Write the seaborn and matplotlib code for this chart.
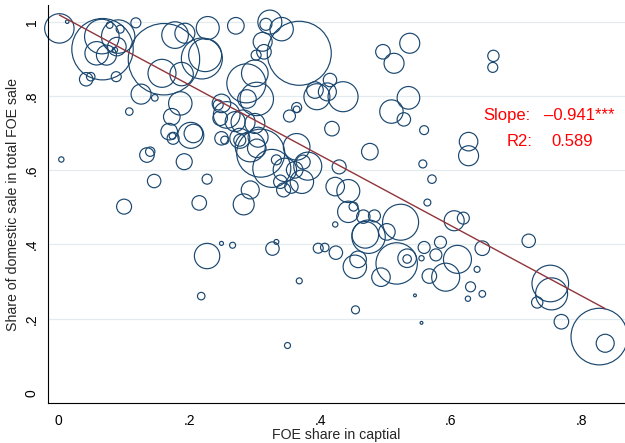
import numpy as np
import pandas as pd
import matplotlib
matplotlib.use("Agg")
import matplotlib.pyplot as plt
import seaborn as sns

# ---- data ----
foe_share = [0.001, 0.013, 0.118, 0.067, 0.066, 0.091, 0.058, 0.073, 0.089, 0.078,
             0.094, 0.086, 0.042, 0.049, 0.088, 0.108, 0.126, 0.147, 0.004, 0.161,
             0.158, 0.188, 0.178, 0.193, 0.228, 0.186, 0.173, 0.169, 0.175, 0.174,
             0.202, 0.206, 0.135, 0.140, 0.192, 0.146, 0.100, 0.215, 0.227, 0.283,
             0.293, 0.271, 0.323, 0.317, 0.341, 0.368, 0.312, 0.314, 0.302, 0.300,
             0.287, 0.303, 0.288, 0.224, 0.219, 0.249, 0.257, 0.270, 0.247, 0.249,
             0.254, 0.277, 0.300, 0.305, 0.303, 0.309, 0.326, 0.364, 0.374, 0.381,
             0.333, 0.346, 0.361, 0.339, 0.344, 0.356, 0.372, 0.395, 0.392, 0.415,
             0.411, 0.435, 0.364, 0.364, 0.353, 0.418, 0.476, 0.429, 0.423, 0.443,
             0.451, 0.496, 0.513, 0.537, 0.509, 0.535, 0.528, 0.559, 0.557, 0.571,
             0.564, 0.665, 0.664, 0.627, 0.627, 0.282, 0.293, 0.277, 0.244, 0.443,
             0.423, 0.466, 0.483, 0.469, 0.474, 0.502, 0.523, 0.517, 0.333, 0.327,
             0.397, 0.407, 0.424, 0.453, 0.458, 0.493, 0.533, 0.533, 0.555, 0.559,
             0.584, 0.577, 0.610, 0.592, 0.567, 0.605, 0.619, 0.648, 0.640, 0.630,
             0.626, 0.648, 0.545, 0.555, 0.454, 0.719, 0.752, 0.754, 0.732, 0.769,
             0.827, 0.836, 0.227, 0.249, 0.266, 0.218, 0.368, 0.350]

domestic_share = [0.982, 1.000, 0.997, 0.926, 0.960, 0.960, 0.915, 0.910, 0.933, 0.991,
                  0.980, 0.924, 0.845, 0.852, 0.852, 0.758, 0.805, 0.795, 0.629, 0.899,
                  0.861, 0.859, 0.964, 0.969, 0.983, 0.780, 0.744, 0.704, 0.686, 0.692,
                  0.694, 0.699, 0.641, 0.650, 0.623, 0.571, 0.502, 0.512, 0.576, 0.508,
                  0.547, 0.989, 0.999, 0.993, 0.980, 0.915, 0.946, 0.919, 0.910, 0.861,
                  0.834, 0.792, 0.792, 0.910, 0.901, 0.780, 0.749, 0.731, 0.740, 0.686,
                  0.681, 0.686, 0.726, 0.689, 0.659, 0.646, 0.605, 0.663, 0.622, 0.611,
                  0.628, 0.601, 0.601, 0.569, 0.547, 0.556, 0.569, 0.798, 0.816, 0.843,
                  0.811, 0.798, 0.769, 0.764, 0.746, 0.712, 0.650, 0.609, 0.556, 0.544,
                  0.502, 0.919, 0.888, 0.942, 0.758, 0.795, 0.737, 0.708, 0.617, 0.576,
                  0.513, 0.908, 0.877, 0.677, 0.639, 0.730, 0.663, 0.681, 0.776, 0.488,
                  0.454, 0.475, 0.477, 0.426, 0.421, 0.434, 0.460, 0.349, 0.407, 0.389,
                  0.390, 0.392, 0.378, 0.340, 0.360, 0.312, 0.363, 0.361, 0.363, 0.392,
                  0.406, 0.372, 0.360, 0.312, 0.315, 0.464, 0.471, 0.390, 0.333, 0.286,
                  0.254, 0.267, 0.263, 0.189, 0.224, 0.410, 0.295, 0.267, 0.244, 0.192,
                  0.152, 0.134, 0.369, 0.403, 0.398, 0.261, 0.302, 0.128]

weight = [216, 3, 25, 942, 299, 279, 137, 100, 86, 11,
          16, 7, 45, 18, 25, 14, 100, 11, 7, 1274,
          196, 137, 177, 100, 132, 137, 69, 69, 36, 11,
          169, 86, 53, 22, 64, 45, 56, 53, 25, 110,
          81, 69, 144, 36, 137, 1024, 90, 53, 25, 177,
          380, 279, 86, 272, 420, 86, 177, 100, 53, 45,
          16, 100, 100, 100, 86, 576, 361, 177, 49, 196,
          25, 137, 69, 45, 49, 45, 137, 169, 69, 45,
          81, 225, 25, 11, 36, 53, 69, 49, 86, 132,
          20, 53, 100, 100, 137, 128, 45, 20, 16, 18,
          12, 32, 25, 86, 100, 144, 225, 36, 25, 114,
          7, 45, 36, 177, 279, 69, 324, 428, 6, 45,
          25, 18, 45, 137, 69, 86, 86, 18, 7, 36,
          36, 36, 196, 196, 53, 100, 36, 53, 9, 25,
          7, 11, 2, 2, 16, 45, 335, 256, 32, 53,
          801, 81, 161, 4, 9, 14, 9, 9]

fit_intercept = 1.019
fit_slope = -0.947
slope_label = "\u20130.941***"
r2_label = "0.589"

x_ticks = [0, 0.2, 0.4, 0.6, 0.8]
x_ticklabels = ["0", ".2", ".4", ".6", ".8"]
y_ticks = [0, 0.2, 0.4, 0.6, 0.8, 1.0]
y_ticklabels = ["0", ".2", ".4", ".6", ".8", "1"]

df = pd.DataFrame({"foe": foe_share, "dom": domestic_share, "w": weight})

# ---- styling ----
sns.set_style("white")
plt.rcParams["font.family"] = ["Liberation Sans", "DejaVu Sans"]

navy = "#1a476f"
maroon = "#90353b"

fig = plt.figure(figsize=(6.25, 4.43), dpi=100)
ax = fig.add_axes([0.0773, 0.0896, 0.9227, 0.8991])

# gridlines (not at 0)
for yv in y_ticks[1:]:
    ax.axhline(yv, color="#e3ebee", lw=0.9, zorder=0)

wmax = max(weight)
px2pt = 0.72
sns.scatterplot(data=df, x="foe", y="dom", size="w",
                sizes=(0, (2 * px2pt) ** 2 * wmax), size_norm=(0, wmax),
                facecolor="none", edgecolor=navy, linewidth=0.85,
                legend=False, ax=ax, zorder=2, clip_on=False)

lx = np.array([min(foe_share), max(foe_share)])
sns.lineplot(x=lx, y=fit_intercept + fit_slope * lx, color=maroon,
             linewidth=1.0, ax=ax, zorder=3)

ax.set_xlim(-0.0159, 0.8663)
ax.set_ylim(-0.0277, 1.045)

ax.set_xticks(x_ticks)
ax.set_xticklabels(x_ticklabels, fontsize=10)
ax.set_yticks(y_ticks)
ax.set_yticklabels(y_ticklabels, fontsize=10, rotation=90, va="center")
ax.tick_params(axis="both", direction="out", length=4.3, width=0.8,
               color="black", labelcolor="black")
ax.tick_params(axis="x", pad=3.5)
ax.tick_params(axis="y", pad=2.5)

for side in ["top", "right"]:
    ax.spines[side].set_visible(False)
for side in ["left", "bottom"]:
    ax.spines[side].set_color("black")
    ax.spines[side].set_linewidth(0.8)

ax.set_xlabel("FOE share in captial", fontsize=10.2, va="center")
ax.set_ylabel("Share of domestic sale in total FOE sale", fontsize=10.2, va="center")
ax.xaxis.set_label_coords(0.5, -0.0796)
ax.yaxis.set_label_coords(-0.0612, 0.5)

ax.text(0.650, 0.735, "Slope:", color="red", fontsize=12, va="baseline", ha="left")
ax.text(0.743, 0.735, slope_label, color="red", fontsize=12, va="baseline", ha="left")
ax.text(0.6856, 0.666, "R2:", color="red", fontsize=12, va="baseline", ha="left")
ax.text(0.753, 0.666, r2_label, color="red", fontsize=12, va="baseline", ha="left")

fig.savefig("out.png", dpi=100)
